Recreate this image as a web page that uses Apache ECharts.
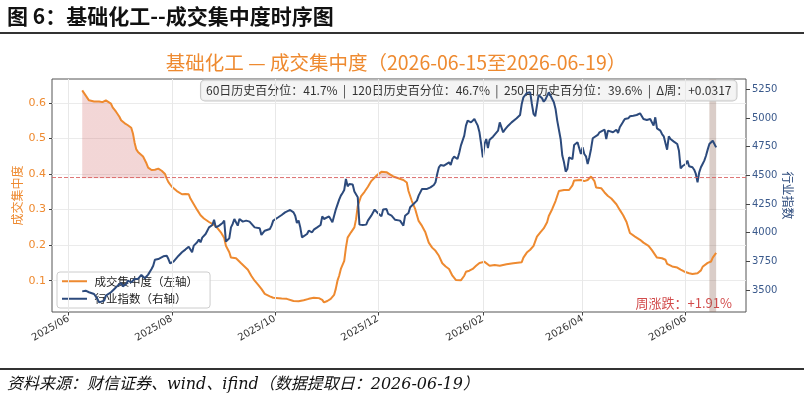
<!DOCTYPE html>
<html>
<head>
<meta charset="utf-8">
<script src="https://cdn.jsdelivr.net/npm/echarts@6/dist/echarts.min.js"></script>
<style>
html, body { margin: 0; padding: 0; background: #fff; }
#main { width: 804px; height: 401px; }
</style>
</head>
<body>
<div id="main"></div>
<script>
var CJK = '"Noto Sans CJK SC", "DejaVu Sans", sans-serif';
var ORANGE = '#EE8A30';
var BLUE = '#2C4A7C';

// 成交集中度（左轴）
var concDates = [
  '2025-06-09','2025-06-11','2025-06-13','2025-06-16','2025-06-19','2025-06-21','2025-06-23','2025-06-24','2025-06-26','2025-06-27','2025-06-29',
  '2025-07-01','2025-07-02','2025-07-04','2025-07-06','2025-07-08','2025-07-09','2025-07-10','2025-07-11','2025-07-12','2025-07-13','2025-07-15','2025-07-17','2025-07-18','2025-07-20','2025-07-22','2025-07-24','2025-07-26','2025-07-28','2025-07-29','2025-07-30',
  '2025-08-01','2025-08-04','2025-08-07','2025-08-09','2025-08-11','2025-08-12','2025-08-14','2025-08-16','2025-08-18','2025-08-20','2025-08-23','2025-08-26','2025-08-28','2025-08-30',
  '2025-09-01','2025-09-02','2025-09-04','2025-09-05','2025-09-08','2025-09-09','2025-09-11','2025-09-13','2025-09-15','2025-09-17','2025-09-19','2025-09-21','2025-09-23','2025-09-25','2025-09-28','2025-09-30',
  '2025-10-05','2025-10-08','2025-10-12','2025-10-15','2025-10-18','2025-10-21','2025-10-24','2025-10-27','2025-10-29','2025-10-30',
  '2025-11-01','2025-11-03','2025-11-05','2025-11-06','2025-11-07','2025-11-08','2025-11-09','2025-11-11','2025-11-12','2025-11-13','2025-11-15','2025-11-17','2025-11-18','2025-11-19','2025-11-21','2025-11-23','2025-11-25','2025-11-27','2025-11-29',
  '2025-12-01','2025-12-03','2025-12-06','2025-12-08','2025-12-10','2025-12-13','2025-12-16','2025-12-18','2025-12-19','2025-12-21','2025-12-23','2025-12-25','2025-12-27','2025-12-29','2025-12-31',
  '2026-01-02','2026-01-04','2026-01-06','2026-01-08','2026-01-10','2026-01-12','2026-01-14','2026-01-16','2026-01-19','2026-01-21','2026-01-22','2026-01-24','2026-01-26','2026-01-28','2026-01-30',
  '2026-02-02','2026-02-03','2026-02-05','2026-02-08','2026-02-11','2026-02-15','2026-02-19','2026-02-24','2026-02-25','2026-02-27',
  '2026-03-01','2026-03-03','2026-03-05','2026-03-07','2026-03-09','2026-03-11','2026-03-12','2026-03-14','2026-03-16','2026-03-18','2026-03-21','2026-03-24','2026-03-26','2026-03-27','2026-03-28','2026-03-31',
  '2026-04-02','2026-04-04','2026-04-06','2026-04-08','2026-04-09','2026-04-12','2026-04-14','2026-04-16','2026-04-18','2026-04-21','2026-04-23','2026-04-25','2026-04-27','2026-04-29',
  '2026-05-02','2026-05-05','2026-05-07','2026-05-10','2026-05-12','2026-05-15','2026-05-18','2026-05-20','2026-05-21','2026-05-24','2026-05-27','2026-05-29','2026-05-31',
  '2026-06-03','2026-06-05','2026-06-08','2026-06-10','2026-06-11','2026-06-14','2026-06-16','2026-06-17','2026-06-19'
];
var concValues = [
  0.635,0.621,0.607,0.604,0.604,0.602,0.607,0.607,0.598,0.587,0.575,
  0.561,0.551,0.543,0.537,0.530,0.514,0.488,0.469,0.462,0.458,0.449,0.430,0.418,0.411,0.412,0.415,0.409,0.400,0.387,0.377,
  0.364,0.352,0.343,0.344,0.343,0.331,0.315,0.299,0.284,0.275,0.265,0.257,0.248,0.236,
  0.220,0.198,0.180,0.165,0.163,0.159,0.149,0.140,0.131,0.114,0.100,0.089,0.077,0.063,0.056,0.052,
  0.050,0.049,0.043,0.042,0.045,0.049,0.052,0.051,0.046,0.039,
  0.043,0.049,0.060,0.077,0.100,0.114,0.133,0.156,0.193,0.221,0.236,0.250,0.273,0.310,0.338,0.350,0.364,0.380,0.390,
  0.399,0.406,0.405,0.399,0.393,0.388,0.383,0.376,0.352,0.324,0.301,0.268,0.254,0.236,0.207,
  0.193,0.184,0.170,0.149,0.140,0.133,0.114,0.102,0.101,0.114,0.125,0.128,0.133,0.142,0.150,
  0.153,0.151,0.142,0.144,0.142,0.146,0.149,0.152,0.165,0.179,
  0.187,0.198,0.224,0.236,0.247,0.264,0.282,0.301,0.324,0.352,0.355,0.355,0.368,0.382,0.383,0.383,
  0.380,0.383,0.393,0.380,0.362,0.360,0.348,0.338,0.331,0.315,0.299,0.284,0.265,0.234,
  0.224,0.215,0.207,0.198,0.186,0.165,0.163,0.159,0.147,0.140,0.137,0.131,0.126,
  0.121,0.119,0.121,0.129,0.139,0.150,0.154,0.165,0.178
];

// 行业指数（右轴）
var indexDates = [
  '2025-06-09','2025-06-11','2025-06-13','2025-06-14','2025-06-16','2025-06-17','2025-06-18','2025-06-19','2025-06-20','2025-06-22','2025-06-23','2025-06-24','2025-06-26','2025-06-28','2025-06-30',
  '2025-07-02','2025-07-03','2025-07-05','2025-07-06','2025-07-08','2025-07-10','2025-07-12','2025-07-13','2025-07-14','2025-07-16','2025-07-17','2025-07-18','2025-07-20','2025-07-21','2025-07-22','2025-07-23','2025-07-24','2025-07-25','2025-07-27','2025-07-29','2025-07-30','2025-07-31',
  '2025-08-02','2025-08-03','2025-08-05','2025-08-07','2025-08-09','2025-08-11','2025-08-12','2025-08-13','2025-08-14','2025-08-16','2025-08-17','2025-08-18','2025-08-19','2025-08-21','2025-08-22','2025-08-23','2025-08-25','2025-08-26','2025-08-27','2025-08-28','2025-08-29','2025-08-31',
  '2025-09-01','2025-09-02','2025-09-04','2025-09-05','2025-09-06','2025-09-07','2025-09-08','2025-09-09','2025-09-10','2025-09-12','2025-09-14','2025-09-16','2025-09-17','2025-09-19','2025-09-20','2025-09-22','2025-09-23','2025-09-25','2025-09-26','2025-09-28','2025-09-29','2025-09-30',
  '2025-10-03','2025-10-05','2025-10-07','2025-10-08','2025-10-10','2025-10-12','2025-10-13','2025-10-14','2025-10-15','2025-10-16','2025-10-17','2025-10-18','2025-10-20','2025-10-21','2025-10-23','2025-10-24','2025-10-26','2025-10-28','2025-10-29','2025-10-30','2025-10-31',
  '2025-11-02','2025-11-04','2025-11-05','2025-11-06','2025-11-08','2025-11-09','2025-11-10','2025-11-11','2025-11-12','2025-11-13','2025-11-14','2025-11-16','2025-11-17','2025-11-19','2025-11-20','2025-11-22','2025-11-24','2025-11-25','2025-11-26','2025-11-27','2025-11-29','2025-11-30',
  '2025-12-01','2025-12-03','2025-12-04','2025-12-05','2025-12-06','2025-12-07','2025-12-09','2025-12-10','2025-12-11','2025-12-12','2025-12-14','2025-12-15','2025-12-16','2025-12-17','2025-12-19','2025-12-20','2025-12-22','2025-12-24','2025-12-25','2025-12-27','2025-12-28','2025-12-30',
  '2026-01-01','2026-01-03','2026-01-04','2026-01-05','2026-01-06','2026-01-07','2026-01-09','2026-01-10','2026-01-12','2026-01-13','2026-01-14','2026-01-15','2026-01-17','2026-01-18','2026-01-19','2026-01-21','2026-01-22','2026-01-23','2026-01-24','2026-01-25','2026-01-26','2026-01-27','2026-01-28','2026-01-29','2026-01-30','2026-01-31',
  '2026-02-01','2026-02-02','2026-02-03','2026-02-04','2026-02-05','2026-02-07','2026-02-08','2026-02-10','2026-02-11','2026-02-12','2026-02-13','2026-02-14','2026-02-16','2026-02-18','2026-02-19','2026-02-21','2026-02-23','2026-02-24','2026-02-25','2026-02-27','2026-02-28',
  '2026-03-01','2026-03-02','2026-03-03','2026-03-04','2026-03-05','2026-03-06','2026-03-08','2026-03-09','2026-03-10','2026-03-12','2026-03-13','2026-03-15','2026-03-16','2026-03-17','2026-03-18','2026-03-19','2026-03-20','2026-03-21','2026-03-22','2026-03-23','2026-03-24','2026-03-25','2026-03-26','2026-03-27','2026-03-29','2026-03-30','2026-03-31',
  '2026-04-01','2026-04-02','2026-04-03','2026-04-04','2026-04-05','2026-04-06','2026-04-07','2026-04-08','2026-04-10','2026-04-11','2026-04-12','2026-04-14','2026-04-15','2026-04-16','2026-04-17','2026-04-19','2026-04-21','2026-04-22','2026-04-23','2026-04-24','2026-04-25','2026-04-26','2026-04-28','2026-04-29',
  '2026-05-01','2026-05-03','2026-05-05','2026-05-06','2026-05-07','2026-05-09','2026-05-10','2026-05-11','2026-05-13','2026-05-14','2026-05-15','2026-05-16','2026-05-17','2026-05-18','2026-05-19','2026-05-20','2026-05-21','2026-05-22','2026-05-23','2026-05-24','2026-05-25','2026-05-26','2026-05-27','2026-05-28','2026-05-29','2026-05-30',
  '2026-06-01','2026-06-02','2026-06-03','2026-06-05','2026-06-06','2026-06-07','2026-06-08','2026-06-09','2026-06-10','2026-06-11','2026-06-12','2026-06-13','2026-06-14','2026-06-15','2026-06-17','2026-06-18','2026-06-19'
];
var indexValues = [
  3488,3494,3480,3474,3465,3451,3422,3392,3398,3407,3451,3465,3480,3509,3538,
  3561,3532,3552,3581,3567,3596,3596,3610,3631,3602,3596,3634,3683,3712,3764,3747,3770,3785,3794,3799,3770,3733,
  3747,3762,3799,3829,3852,3878,3892,3829,3887,3916,3939,3916,3956,3988,4017,4046,4067,4113,4046,4032,4061,4084,
  4105,3922,3951,4046,4076,4119,4134,4061,4119,4096,4105,4096,4084,4046,4061,4038,3980,4017,4003,4032,4061,4105,
  4134,4154,4177,4186,4198,4177,4148,4084,4105,4046,3959,3968,3988,4017,4003,4026,4046,4067,4142,4119,4125,
  4142,4090,4105,4201,4288,4323,4346,4372,4468,4404,4424,4419,4358,4308,4070,4067,4070,4105,4096,4148,4201,4206,
  4169,4142,4201,4192,4206,4163,4148,4163,4113,4105,4105,4119,4061,4148,4172,4221,4250,4279,4323,4381,4395,4381,
  4395,4416,4439,4512,4570,4590,4584,4599,4613,4590,4642,4663,4642,4695,4759,4846,4933,4977,4968,4962,4948,4991,4962,4933,4875,4773,
  4657,4773,4817,4738,4811,4837,4852,4890,4962,4956,4875,4898,4933,4962,4968,4997,5026,5122,5180,5218,5230,
  5224,5122,5035,5015,5108,5201,5172,5142,5160,5224,5209,5137,5079,4977,4962,4817,4672,4613,4532,4555,4657,4672,4642,4765,4788,4797,4686,
  4744,4686,4666,4599,4657,4730,4823,4837,4852,4875,4890,4898,4817,4890,4881,4875,4898,4869,4919,4904,4968,4991,4997,5015,
  5020,5026,5041,5049,4991,4983,4968,4991,4933,5006,4910,4904,4890,4860,4840,4823,4724,4840,4817,4817,4794,4811,4773,4715,4561,4579,
  4599,4628,4579,4570,4549,4512,4439,4526,4570,4599,4628,4671,4724,4773,4802,4788,4744
];

var xTickDates = ['2025-06-01','2025-08-01','2025-10-01','2025-12-01','2026-02-01','2026-04-01','2026-06-01'];
var leftTicks = [0.1, 0.2, 0.3, 0.4, 0.5, 0.6];
var rightTicks = [3500, 3750, 4000, 4250, 4500, 4750, 5000, 5250];
var threshold = 0.3876;
var weekRange = ['2026-06-15', '2026-06-19'];
var pctWindows = [60, 120, 250];
var pctValues = [41.7, 46.7, 39.6];
var weekDelta = 0.0317;
var weekChange = 1.91;

var parse = function (d) { return echarts.time.parse(d).getTime(); };
var xTickValues = xTickDates.map(parse);
var concData = concDates.map(function (d, i) { return [parse(d), concValues[i]]; });
var indexData = indexDates.map(function (d, i) { return [parse(d), indexValues[i]]; });

var infoText = pctWindows.map(function (w, i) {
  return w + '日历史百分位：' + pctValues[i].toFixed(1) + '%';
}).join('  |  ') + '  |  Δ周：+' + weekDelta.toFixed(4);

var chart = echarts.init(document.getElementById('main'));
var option = {
  animation: false,
  grid: { left: 52, right: 58, top: 79, bottom: 89, show: true, borderColor: '#555', borderWidth: 1,
    containLabel: false, outerBoundsMode: 'none' },
  legend: {
    orient: 'vertical', left: 57, top: 272,
    data: ['成交集中度（左轴）', '行业指数（右轴）'],
    icon: 'rect', itemWidth: 25, itemHeight: 2, itemGap: 3,
    padding: [2, 12, 2, 5],
    backgroundColor: 'rgba(255,255,255,0.8)', borderColor: '#CCCCCC', borderWidth: 1, borderRadius: 3,
    textStyle: { fontSize: 11.5, color: '#222', fontFamily: CJK, lineHeight: 14.5 },
    formatter: function (n) { return ' ' + n; }
  },
  xAxis: {
    type: 'value',
    min: parse('2025-05-22 03:00'),
    max: parse('2026-07-06 16:00'),
    axisLine: { show: false },
    splitLine: { show: false },
    axisTick: { show: true, length: 3.5, customValues: xTickValues, lineStyle: { color: '#444' } },
    axisLabel: {
      customValues: xTickValues, rotate: 30, margin: 6, fontSize: 10, color: '#333', fontFamily: 'DejaVu Sans',
      formatter: function (v) { return echarts.time.format(v, '{yyyy}/{MM}', false); }
    }
  },
  yAxis: [
    {
      type: 'value', position: 'left', min: 0.012, max: 0.667,
      name: '成交集中度', nameLocation: 'middle', nameGap: 28.5, nameRotate: 90, nameMoveOverlap: false,
      nameTextStyle: { color: ORANGE, fontSize: 12, fontFamily: CJK },
      axisLine: { show: false },
      axisTick: { show: true, length: 3, customValues: leftTicks, lineStyle: { color: '#444' } },
      axisLabel: { customValues: leftTicks, color: ORANGE, fontSize: 11, margin: 6, fontFamily: 'DejaVu Sans',
        formatter: function (v) { return v.toFixed(1); } },
      splitLine: { show: true, lineStyle: { color: '#EBEBEB', width: 1 } }
    },
    {
      type: 'value', position: 'right', min: 3308, max: 5340,
      name: '行业指数', nameLocation: 'middle', nameGap: 36, nameRotate: -90, nameMoveOverlap: false,
      nameTextStyle: { color: BLUE, fontSize: 12, fontFamily: CJK },
      axisLine: { show: false },
      axisTick: { show: true, length: 4, customValues: rightTicks, lineStyle: { color: '#444' } },
      axisLabel: { customValues: rightTicks, color: '#3B5A8C', fontSize: 10, margin: 6, fontFamily: 'DejaVu Sans',
        formatter: function (v) { return String(v); } },
      splitLine: { show: false }
    }
  ],
  series: [
    {
      id: 'fill', name: '高位区间', type: 'line', yAxisIndex: 0, data: concData,
      symbol: 'none', showSymbol: false, silent: true, z: 1,
      lineStyle: { width: 0, opacity: 0 },
      areaStyle: { opacity: 1, origin: threshold, color: 'rgba(0,0,0,0)' },
      markLine: {
        silent: true, symbol: 'none', label: { show: false },
        data: xTickValues.map(function (t) {
          return { xAxis: t, lineStyle: { color: '#E8E8E8', type: 'solid', width: 1 } };
        }).concat([{ yAxis: threshold, lineStyle: { color: '#D95F5F', type: [4, 2], width: 1, opacity: 0.85 } }])
      }
    },
    {
      name: '成交集中度（左轴）', type: 'line', yAxisIndex: 0, data: concData,
      symbol: 'none', showSymbol: false, z: 3,
      lineStyle: { width: 2, color: ORANGE }, itemStyle: { color: ORANGE },
      markArea: {
        silent: true,
        itemStyle: { color: 'rgba(140,100,85,0.32)' },
        data: [[{ xAxis: parse(weekRange[0]) }, { xAxis: parse(weekRange[1]) }]]
      }
    },
    {
      name: '行业指数（右轴）', type: 'line', yAxisIndex: 1, data: indexData,
      symbol: 'none', showSymbol: false, z: 4,
      lineStyle: { width: 2, color: BLUE }, itemStyle: { color: BLUE }
    }
  ],
  graphic: [
    { type: 'text', x: 7, y: 16.5, style: { text: '图 6：基础化工--成交集中度时序图', font: 'bold 21px "Noto Sans CJK SC"', fill: '#111', verticalAlign: 'middle' } },
    { type: 'rect', shape: { x: 0, y: 32, width: 804, height: 2 }, style: { fill: '#333' } },
    { type: 'text', x: 396, y: 63, style: { text: '基础化工 — 成交集中度（' + weekRange[0] + '至' + weekRange[1] + '）', font: '19.5px "Noto Sans CJK SC"', fill: ORANGE, align: 'center', verticalAlign: 'middle' } },
    { type: 'text', x: 736.5, y: 80.5, z: 2, style: { text: infoText, font: '12px "Noto Sans CJK SC"', fill: '#333', align: 'right', verticalAlign: 'top', backgroundColor: 'rgba(242,242,242,0.85)', borderColor: '#C8C8C8', borderWidth: 1, borderRadius: 4, padding: [4, 5, 4, 5] } },
    { type: 'text', x: 732, y: 303, style: { text: '周涨跌：+' + weekChange.toFixed(2) + '%', font: '13px "Noto Sans CJK SC"', fill: '#D24B4B', align: 'right', verticalAlign: 'middle' } },
    { type: 'rect', shape: { x: 0, y: 368, width: 804, height: 2 }, style: { fill: '#333' } },
    { type: 'text', x: 7, y: 385, style: { text: '资料来源：财信证券、wind、ifind（数据提取日：2026-06-19）', font: 'italic 16px "DejaVu Serif", "Noto Sans CJK SC"', fill: '#111', verticalAlign: 'middle' } }
  ]
};
chart.setOption(option);

// pink fill only above the reference line: gradient cut at the line's pixel row
var thrY = chart.convertToPixel({ yAxisIndex: 0 }, threshold);
chart.setOption({
  series: [{
    id: 'fill',
    areaStyle: {
      color: new echarts.graphic.LinearGradient(0, thrY - 0.5, 0, thrY + 0.5, [
        { offset: 0, color: 'rgba(205,92,92,0.25)' },
        { offset: 1, color: 'rgba(205,92,92,0)' }
      ], true)
    }
  }]
});
</script>
</body>
</html>
